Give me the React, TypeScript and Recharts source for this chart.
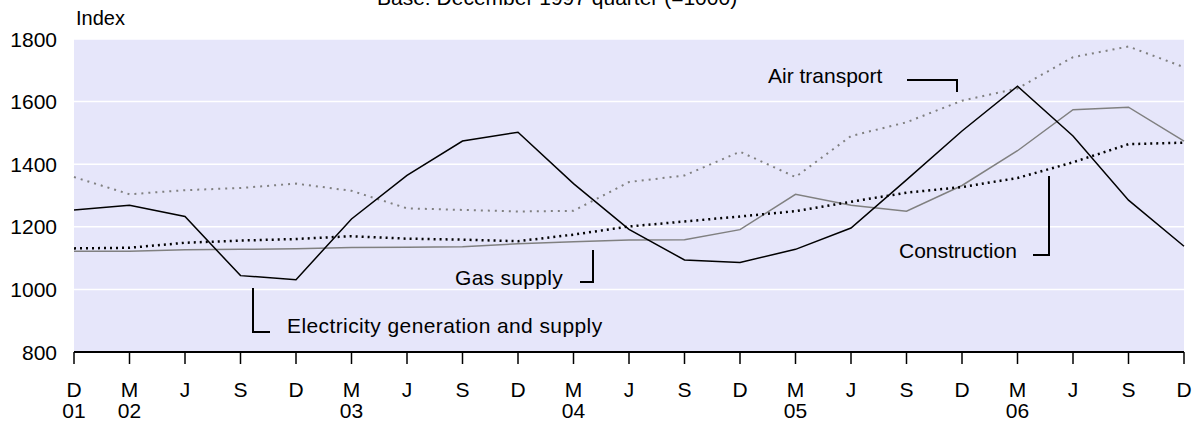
import React from 'react';
import { LineChart, Line, XAxis, YAxis, CartesianGrid } from 'recharts';

// quarterly index, base December 1997 quarter = 1000
const quarters = ['D01', 'M02', 'J02', 'S02', 'D02', 'M03', 'J03', 'S03', 'D03', 'M04', 'J04', 'S04', 'D04', 'M05', 'J05', 'S05', 'D05', 'M06', 'J06', 'S06', 'D06'];
const monthLabels = ['D', 'M', 'J', 'S', 'D', 'M', 'J', 'S', 'D', 'M', 'J', 'S', 'D', 'M', 'J', 'S', 'D', 'M', 'J', 'S', 'D'];
const yearLabels = ['01', '02', '', '', '', '03', '', '', '', '04', '', '', '', '05', '', '', '', '06', '', '', ''];

const electricity = [1254, 1269, 1233, 1044, 1031, 1225, 1364, 1474, 1502, 1338, 1192, 1094, 1086, 1128, 1196, 1350, 1506, 1649, 1490, 1285, 1138];
const gasSupply = [1122, 1122, 1127, 1128, 1130, 1134, 1135, 1136, 1146, 1152, 1158, 1159, 1191, 1304, 1269, 1250, 1332, 1443, 1574, 1582, 1474];
const airTransport = [1359, 1304, 1317, 1324, 1338, 1315, 1259, 1254, 1249, 1251, 1343, 1364, 1440, 1359, 1490, 1534, 1603, 1642, 1742, 1776, 1710];
const construction = [1131, 1133, 1149, 1156, 1161, 1170, 1162, 1159, 1154, 1175, 1201, 1217, 1233, 1250, 1280, 1309, 1327, 1356, 1406, 1464, 1469];

const yTicks = [800, 1000, 1200, 1400, 1600, 1800];

const chartData = quarters.map((q, i) => ({
    q,
    electricity: electricity[i],
    gas: gasSupply[i],
    air: airTransport[i],
    construction: construction[i],
}));

const FONT = '"Liberation Sans", Arial, sans-serif';

const XTick = (props: any) => {
    const { x, payload } = props;
    const i = payload.index;
    return (
        <g>
            <text x={x} y={397} textAnchor="middle" fontSize={21} fontFamily={FONT} fill="#000">{monthLabels[i]}</text>
            {yearLabels[i] && (
                <text x={x} y={418} textAnchor="middle" fontSize={21} fontFamily={FONT} fill="#000">{yearLabels[i]}</text>
            )}
        </g>
    );
};

const YTick = (props: any) => {
    const { y, payload } = props;
    return (
        <text x={57} y={y + 7.5} textAnchor="end" fontSize={21} fontFamily={FONT} fill="#000">{payload.value}</text>
    );
};

const App: React.FC = () => {
    const txt = { fontSize: 21, fontFamily: FONT, fill: '#000' };
    return (
        <div style={{ position: 'absolute', left: 0, top: 0, width: 1192, height: 430, background: '#fff' }}>
            <LineChart width={1192} height={430} data={chartData} margin={{ top: 39, right: 8, left: 0, bottom: 0 }}>
                <CartesianGrid vertical={false} stroke="#ffffff" strokeWidth={1.5} fill="#E6E6FA" />
                <XAxis
                    dataKey="q"
                    height={78}
                    interval={0}
                    axisLine={{ stroke: '#000', strokeWidth: 2 }}
                    tickLine={{ stroke: '#000', strokeWidth: 1.5 }}
                    tickSize={12}
                    tick={<XTick />}
                />
                <YAxis
                    width={74}
                    domain={[800, 1800]}
                    ticks={yTicks}
                    axisLine={false}
                    tickLine={false}
                    tick={<YTick />}
                />
                <Line dataKey="air" stroke="#808080" strokeWidth={2} strokeDasharray="2 5" dot={false} isAnimationActive={false} />
                <Line dataKey="gas" stroke="#808080" strokeWidth={1.5} dot={false} isAnimationActive={false} />
                <Line dataKey="construction" stroke="#000" strokeWidth={2.5} strokeDasharray="2 4" dot={false} isAnimationActive={false} />
                <Line dataKey="electricity" stroke="#000" strokeWidth={1.5} dot={false} isAnimationActive={false} />
            </LineChart>
            {/* labels and leader lines */}
            <svg width={1192} height={430} style={{ position: 'absolute', left: 0, top: 0, pointerEvents: 'none' }}>
                <text x={377} y={5} {...txt}>Base: December 1997 quarter (=1000)</text>
                <text x={76} y={25} {...txt} fontSize={20}>Index</text>

                <text x={768} y={83} {...txt}>Air transport</text>
                <polyline points="907,80 957,80 957,92" fill="none" stroke="#000" strokeWidth={2} />

                <text x={899} y={258} {...txt}>Construction</text>
                <polyline points="1033,255 1049,255 1049,176" fill="none" stroke="#000" strokeWidth={2} />

                <text x={455} y={285} {...txt} letterSpacing={0.3}>Gas supply</text>
                <polyline points="580,282 593,282 593,250" fill="none" stroke="#000" strokeWidth={2} />

                <text x={287} y={333} {...txt} letterSpacing={0.4}>Electricity generation and supply</text>
                <polyline points="253,288 253,332 270,332" fill="none" stroke="#000" strokeWidth={2} />
            </svg>
        </div>
    );
};

export default App;
